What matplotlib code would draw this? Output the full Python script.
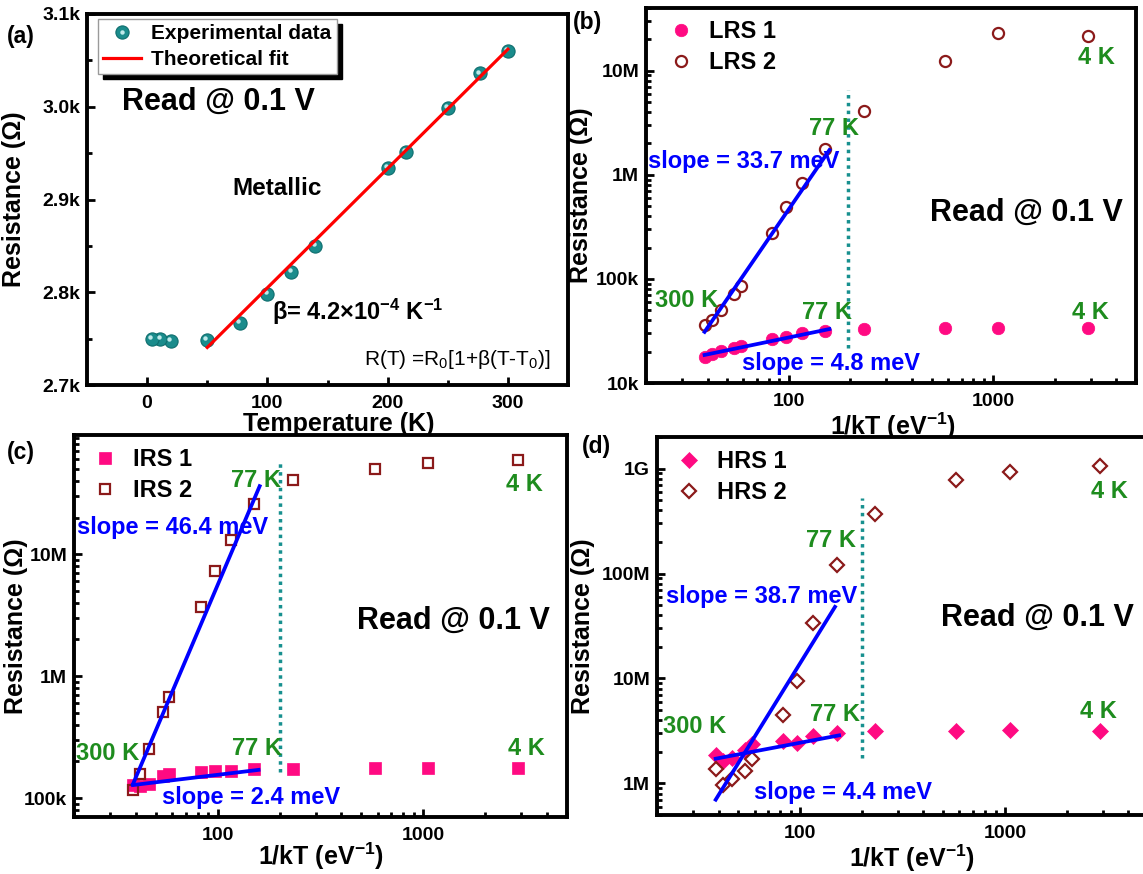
import numpy as np
import matplotlib
matplotlib.use("Agg")
import matplotlib.pyplot as plt
import matplotlib.transforms as mtransforms
from matplotlib.ticker import FixedLocator, FuncFormatter, NullFormatter
from matplotlib.legend_handler import HandlerTuple

plt.rcParams['font.family'] = ['Liberation Sans', 'DejaVu Sans']
plt.rcParams['font.weight'] = 'bold'
plt.rcParams['axes.labelweight'] = 'bold'

K_B = 8.617e-5  # Boltzmann constant, eV/K

# ---------------- data ----------------
temperature_K = [300, 277, 250, 215, 200, 140, 120, 100, 77, 50, 20, 11, 4]

# (a) metallic state, resistance in ohm
r_metallic = [3060, 3036, 2999, 2951, 2934, 2850, 2822, 2798, 2767, 2749, 2747.5, 2750, 2749.5]
fit_R0 = 3062.0
fit_beta = 4.2e-4
fit_T0 = 300.0
fit_T_range = [50, 300]

# (b) low resistance state
lrs1 = [1.79e4, 1.89e4, 2.03e4, 2.15e4, 2.28e4, 2.64e4, 2.78e4, 2.99e4, 3.15e4, 3.27e4, 3.34e4, 3.34e4, 3.34e4]
lrs2 = [3.6e4, 4.0e4, 4.99e4, 7.2e4, 8.6e4, 2.78e5, 4.92e5, 8.3e5, 1.77e6, 4.07e6, 1.23e7, 2.29e7, 2.15e7]

# (c) intermediate resistance state
irs1 = [1.29e5, 1.25e5, 1.31e5, 1.53e5, 1.58e5, 1.63e5, 1.66e5, 1.68e5, 1.72e5, 1.72e5, 1.76e5, 1.76e5, 1.76e5]
irs2 = [1.17e5, 1.58e5, 2.53e5, 5.06e5, 6.71e5, 3.7e6, 7.31e6, 1.30e7, 2.60e7, 4.04e7, 5.02e7, 5.62e7, 5.87e7]

# (d) high resistance state
hrs1 = [1.85e6, 1.63e6, 1.75e6, 2.10e6, 2.35e6, 2.53e6, 2.43e6, 2.82e6, 3.03e6, 3.14e6, 3.14e6, 3.21e6, 3.14e6]
hrs2 = [1.36e6, 0.957e6, 1.09e6, 1.31e6, 1.69e6, 4.53e6, 9.38e6, 3.36e7, 1.20e8, 3.68e8, 7.74e8, 9.29e8, 1.05e9]

# Arrhenius fits: activation energy (meV), 1/kT start, 1/kT end, R at start
fit_b = [(33.7, 38.7, 158.0, 3.1e4), (4.8, 38.7, 158.0, 1.86e4)]
fit_c = [(46.4, 38.7, 160.0, 1.3e5), (2.4, 38.7, 158.0, 1.28e5)]
fit_d = [(38.7, 38.7, 148.0, 7.0e5), (4.4, 38.7, 155.0, 1.72e6)]

# 1/kT position of the dotted separator and its vertical extent
sep_b = (194, 2.15e4, 6.5e6)
sep_c = (202, 1.63e5, 5.8e7)
sep_d = (200, 1.75e6, 5.2e8)

inv_kT = [1.0 / (K_B * t) for t in temperature_K]

PINK = '#FF0A82'
DARKRED = '#8B1A1A'
GREEN = '#1E8C1E'
BLUE = '#0000FF'
TEAL = '#1A8C8C'

W, H = 1143, 874
fig = plt.figure(figsize=(W / 100, H / 100), dpi=100)
fig.patch.set_facecolor('white')


def px_axes(l, t, r, b):
    return fig.add_axes([l / W, 1 - b / H, (r - l) / W, (b - t) / H])


def style(ax):
    for s in ax.spines.values():
        s.set_linewidth(2.8)
    ax.tick_params(which='both', direction='in', top=False, right=False,
                   labelsize=14, width=2.0)
    ax.tick_params(which='major', length=6)
    ax.tick_params(which='minor', length=3.5)
    ax.tick_params(axis='x', which='major', pad=7)
    ax.tick_params(axis='y', which='major', pad=5)


NAMES = {4: '10k', 5: '100k', 6: '1M', 7: '10M', 8: '100M', 9: '1G', 2: '100', 3: '1000'}


def log_fmt(v, pos):
    e = int(round(np.log10(v)))
    return NAMES.get(e, '')


def minor_log(lo, hi):
    out = []
    for e in range(int(np.floor(np.log10(lo))), int(np.ceil(np.log10(hi))) + 1):
        for m in range(2, 10):
            v = m * 10.0 ** e
            if lo <= v <= hi:
                out.append(v)
    return out


def fit_segment(slope_meV, x0, x1, r0):
    # straight segment between the two end points of the Arrhenius fit
    r1 = r0 * np.exp(slope_meV * 1e-3 * (x1 - x0))
    return [x0, x1], [r0, r1]


# ---------------- (a) ----------------
ax = px_axes(87, 14, 568, 385)
style(ax)
ax.set_xlim(-50, 350)
ax.set_ylim(2700, 3100)
ax.xaxis.set_major_locator(FixedLocator([0, 100, 200, 300]))
ax.xaxis.set_minor_locator(FixedLocator([50, 150, 250]))
ax.yaxis.set_major_locator(FixedLocator([2700, 2800, 2900, 3000, 3100]))
ax.yaxis.set_minor_locator(FixedLocator([2750, 2850, 2950, 3050]))
ax.yaxis.set_major_formatter(FuncFormatter(lambda v, p: f'{v / 1000:.1f}k'))

Tfit = np.array(fit_T_range, dtype=float)
Rfit = fit_R0 * (1 + fit_beta * (Tfit - fit_T0))
dots, = ax.plot(temperature_K, r_metallic, 'o', ms=9.5, mfc=TEAL, mec='#0F6E6E',
                mew=0.8, ls='none', zorder=3)
shine = mtransforms.offset_copy(ax.transData, fig=fig, x=-1.3, y=1.3, units='points')
hl, = ax.plot(temperature_K, r_metallic, 'o', ms=3.2, mfc='#BFEAEA', mec='none',
              ls='none', zorder=3.1, transform=shine)
fitline, = ax.plot(Tfit, Rfit, '-', color='#FF0000', lw=2.3, zorder=4)

leg = ax.legend([(dots, hl), fitline], ['Experimental data', 'Theoretical fit'],
                handler_map={tuple: HandlerTuple(ndivide=1, pad=0)},
                loc='upper left', bbox_to_anchor=(0.023, 0.9865), borderaxespad=0,
                fontsize=15, handlelength=1.8, handletextpad=0.5, labelspacing=0.32,
                borderpad=0.25, fancybox=False, framealpha=1, edgecolor='#9a9a9a',
                shadow={'ox': 3.8, 'oy': -3.8, 'shade': 1.0, 'alpha': 1.0})
leg.get_frame().set_linewidth(1.0)

ax.text(-21, 3005, 'Read @ 0.1 V', fontsize=22, ha='left', va='center')
ax.text(70.6, 2912, 'Metallic', fontsize=17.5, ha='left', va='center')
ax.text(103.5, 2779, 'β= 4.2×10$\\mathregular{^{-4}}$ K$\\mathregular{^{-1}}$',
        fontsize=17, ha='left', va='center')
ax.text(180, 2727, 'R(T) =R$\\mathregular{_0}$[1+β(T-T$\\mathregular{_0}$)]',
        fontsize=15, fontweight='normal', ha='left', va='center')
ax.set_xlabel('Temperature (K)', fontsize=18)
ax.xaxis.set_label_coords(0.524, -0.074)
ax.set_ylabel('Resistance (Ω)', fontsize=18)
ax.yaxis.set_label_coords(-0.127, 0.5)


# ---------------- (b)-(d) ----------------
def arrhenius_panel(box, ylim, yticks, s1, s2, marker, sizes, names, fits, sep,
                    legpos, texts, xlab, ylab):
    ax = px_axes(*box)
    style(ax)
    ax.set_xscale('log')
    ax.set_yscale('log')
    ax.set_xlim(20, 5000)
    ax.set_ylim(*ylim)
    ax.xaxis.set_major_locator(FixedLocator([100, 1000]))
    ax.xaxis.set_minor_locator(FixedLocator(minor_log(20, 5000)))
    ax.yaxis.set_major_locator(FixedLocator(yticks))
    ax.yaxis.set_minor_locator(FixedLocator(minor_log(*ylim)))
    for axis in (ax.xaxis, ax.yaxis):
        axis.set_major_formatter(FuncFormatter(log_fmt))
        axis.set_minor_formatter(NullFormatter())

    h1, = ax.plot(inv_kT, s1, marker, ms=sizes[0], mfc=PINK, mec=PINK, mew=0.5,
                  ls='none', zorder=3)
    h2, = ax.plot(inv_kT, s2, marker, ms=sizes[1], mfc='none', mec=DARKRED, mew=1.6,
                  ls='none', zorder=3)
    for slope, x0, x1, r0 in fits:
        xs, ys = fit_segment(slope, x0, x1, r0)
        ax.plot(xs, ys, '-', color=BLUE, lw=2.7, zorder=4)
    ax.plot([sep[0], sep[0]], [sep[1], sep[2]], color='#17908F', lw=2.5,
            ls=(0, (1, 1.25)), zorder=2)

    ax.legend([h1, h2], names, loc='upper left', bbox_to_anchor=legpos,
              borderaxespad=0, borderpad=0, frameon=False, fontsize=17,
              handlelength=1.0, handletextpad=0.7, labelspacing=0.33)

    for (tx, ty, s, c, fs, ha) in texts:
        ax.text(tx, ty, s, color=c, fontsize=fs, ha=ha, va='center', zorder=5)
    ax.set_xlabel('1/kT (eV$\\mathregular{^{-1}}$)', fontsize=18)
    ax.xaxis.set_label_coords(*xlab)
    ax.set_ylabel('Resistance (Ω)', fontsize=18)
    ax.yaxis.set_label_coords(*ylab)
    return ax


arrhenius_panel(
    (646, 8, 1136, 383), (1e4, 4e7), [1e4, 1e5, 1e6, 1e7],
    lrs1, lrs2, 'o', (9, 8), ['LRS 1', 'LRS 2'], fit_b, sep_b, (0.047, 0.967),
    [(166, 2.78e6, '77 K', GREEN, 17, 'center'),
     (153, 4.8e4, '77 K', GREEN, 17, 'center'),
     (31.6, 6.2e4, '300 K', GREEN, 17, 'center'),
     (3193, 1.34e7, '4 K', GREEN, 17, 'center'),
     (2997, 4.8e4, '4 K', GREEN, 17, 'center'),
     (20.5, 1.34e6, 'slope = 33.7 meV', BLUE, 17, 'left'),
     (58.9, 1.55e4, 'slope = 4.8 meV', BLUE, 17, 'left'),
     (489, 4.3e5, 'Read @ 0.1 V', 'black', 22, 'left')],
    (0.504, -0.0747), (-0.108, 0.5))

arrhenius_panel(
    (74, 435, 567, 817), (7e4, 9.5e7), [1e5, 1e6, 1e7],
    irs1, irs2, 's', (8.5, 7.5), ['IRS 1', 'IRS 2'], fit_c, sep_c, (0.038, 0.965),
    [(153.5, 4.0e7, '77 K', GREEN, 17, 'center'),
     (155, 2.53e5, '77 K', GREEN, 17, 'center'),
     (29.3, 2.31e5, '300 K', GREEN, 17, 'center'),
     (3095, 3.74e7, '4 K', GREEN, 17, 'center'),
     (3175, 2.53e5, '4 K', GREEN, 17, 'center'),
     (20.6, 1.65e7, 'slope = 46.4 meV', BLUE, 17, 'left'),
     (53.5, 1.02e5, 'slope = 2.4 meV', BLUE, 17, 'left'),
     (476, 2.85e6, 'Read @ 0.1 V', 'black', 22, 'left')],
    (0.5, -0.0628), (-0.093, 0.5))

arrhenius_panel(
    (657, 437, 1148, 815), (5e5, 2e9), [1e6, 1e7, 1e8, 1e9],
    hrs1, hrs2, 'D', (7.8, 7.0), ['HRS 1', 'HRS 2'], fit_d, sep_d, (0.041, 0.965),
    [(141.6, 2.08e8, '77 K', GREEN, 17, 'center'),
     (147.5, 4.53e6, '77 K', GREEN, 17, 'center'),
     (30.7, 3.5e6, '300 K', GREEN, 17, 'center'),
     (3237, 6.0e8, '4 K', GREEN, 17, 'center'),
     (2850, 4.87e6, '4 K', GREEN, 17, 'center'),
     (22.1, 6.0e7, 'slope = 38.7 meV', BLUE, 17, 'left'),
     (59.5, 0.827e6, 'slope = 4.4 meV', BLUE, 17, 'left'),
     (488, 3.75e7, 'Read @ 0.1 V', 'black', 22, 'left')],
    (0.52, -0.074), (-0.126, 0.5))

# panel letters
for lab, x, y in [('(a)', 21, 36), ('(b)', 588, 22), ('(c)', 21, 452), ('(d)', 596, 447)]:
    fig.text(x / W, 1 - y / H, lab, fontsize=16.5, ha='center', va='center')

fig.savefig('out.png', dpi=100, facecolor='white')
